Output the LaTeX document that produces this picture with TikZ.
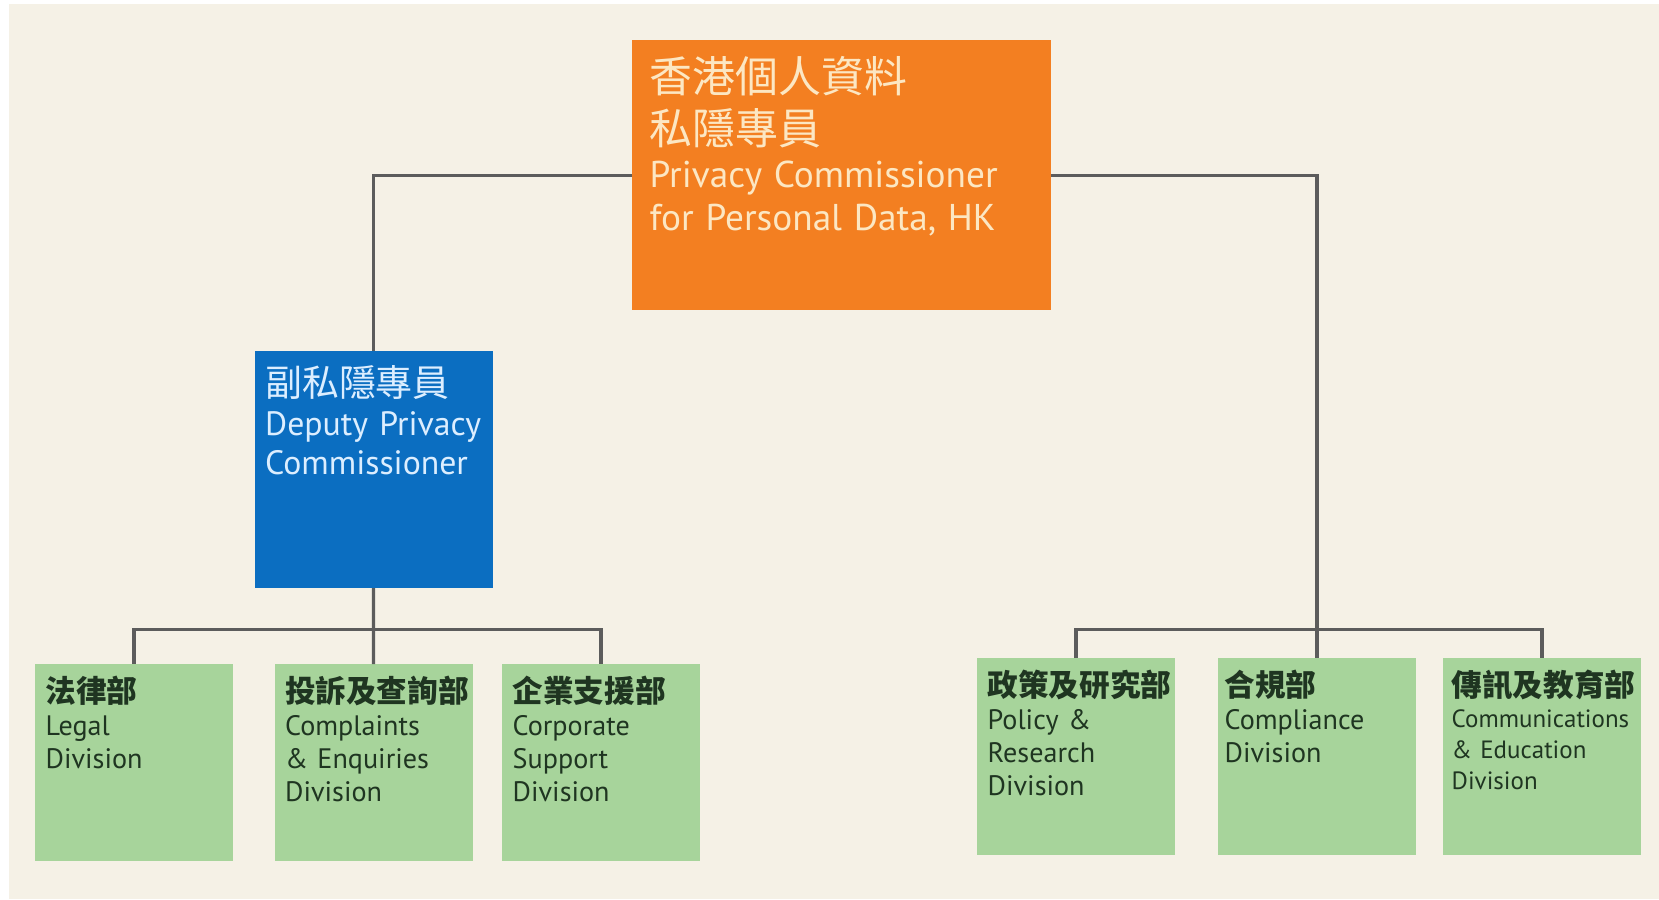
\documentclass[tikz,border=0pt]{standalone}
\usepackage{fontspec}
\setmainfont{PT Sans}
\newfontfamily\cjk{Noto Sans CJK TC}
\usepackage{xcolor}
\usepackage{tikz}
\usetikzlibrary{positioning}

\definecolor{cream}{HTML}{F5F1E6}
\definecolor{chieforange}{HTML}{F37F21}
\definecolor{deputyblue}{HTML}{0B6EC1}
\definecolor{divgreen}{HTML}{A7D49B}
\definecolor{linkgray}{HTML}{5C5C5C}
\definecolor{orangetext}{HTML}{FCE7C3}
\definecolor{bluetext}{HTML}{DCEEFF}
\definecolor{greentext}{HTML}{1F3521}

\tikzset{
  unit/.style={anchor=north west, inner sep=0pt, outer sep=0pt},
  chief/.style={unit, fill=chieforange, minimum width=4.19cm, minimum height=2.70cm},
  deputy/.style={unit, fill=deputyblue, minimum width=2.38cm, minimum height=2.37cm},
  division/.style={unit, fill=divgreen, minimum width=1.98cm, minimum height=1.97cm},
  label text/.style={anchor=north west, inner sep=0pt, align=left},
  on orange/.style={label text, text width=4cm, text=orangetext},
  on blue/.style={label text, text width=2.3cm, text=bluetext, font={\fontsize{9.6}{11.1}\selectfont}},
  on green/.style={label text, text width=1.9cm, text=greentext, font={\fontsize{8}{9.4}\selectfont}},
  link/.style={draw=linkgray, line width=0.9pt},
}

\begin{document}
\begin{tikzpicture}[x=0.01cm, y=-0.01cm]

  % background
  \fill[white] (0,0) rectangle (1659,899);
  \fill[cream] (9,4) rectangle (1659,899);

  % boxes
  \node[chief] (pcpd) at (632,40) {};
  \node[deputy] (dpc) at (254.5,351) {};

  \node[division] (legal) at (35,664) {};
  \node[division] (complaints) at (274.5,664) {};
  \node[division] (corporate) at (502,664) {};

  \node[division] (policy) at (977,658) {};
  \node[division] (compliance) at (1218,658) {};
  \node[division] (comms) at (1443,658) {};

  % texts
  \node[on orange, below right=0.16cm and 0.17cm of pcpd.north west] (pcpd-txt)
    {{\cjk\fontsize{12.2}{14.8}\selectfont 香港個人資料\\私隱專員\par}%
     \fontsize{10.6}{12.2}\selectfont Privacy Commissioner\\for Personal Data, HK};
  \node[on blue, below right=0.14cm and 0.10cm of dpc.north west] (dpc-txt)
    {{\cjk\fontsize{10.5}{11.1}\selectfont 副私隱專員}\\Deputy Privacy\\Commissioner};

  \node[on green, below right=0.11cm and 0.10cm of legal.north west] (legal-txt)
    {{\cjk\bfseries\fontsize{8.7}{9.4}\selectfont 法律部}\\Legal\\Division};
  \node[on green, below right=0.11cm and 0.10cm of complaints.north west] (complaints-txt)
    {{\cjk\bfseries\fontsize{8.7}{9.4}\selectfont 投訴及查詢部}\\Complaints\\\&~Enquiries\\Division};
  \node[on green, below right=0.11cm and 0.10cm of corporate.north west] (corporate-txt)
    {{\cjk\bfseries\fontsize{8.7}{9.4}\selectfont 企業支援部}\\Corporate\\Support\\Division};

  \node[on green, below right=0.11cm and 0.10cm of policy.north west] (policy-txt)
    {{\cjk\bfseries\fontsize{8.7}{9.4}\selectfont 政策及研究部}\\Policy \&\\Research\\Division};
  \node[on green, below right=0.11cm and 0.06cm of compliance.north west] (compliance-txt)
    {{\cjk\bfseries\fontsize{8.7}{9.4}\selectfont 合規部}\\Compliance\\Division};
  \node[on green, below right=0.11cm and 0.08cm of comms.north west, font={\fontsize{7.1}{8.8}\selectfont}] (comms-txt)
    {{\cjk\bfseries\fontsize{8.7}{8.8}\selectfont 傳訊及教育部}\\Communications\\\& Education\\Division};

  % connectors
  \coordinate (lbus) at (373.5,629.5);
  \coordinate (rbus) at (1317,629.5);
  \draw[link] (pcpd.west) -| (dpc.north);
  \draw[link] (pcpd.east) -| (compliance.north);
  \draw[link] (dpc.south) -- (complaints.north);
  \draw[link] (legal.north) |- (lbus) -| (corporate.north);
  \draw[link] (policy.north) |- (rbus) -| (comms.north);
\end{tikzpicture}
\end{document}
